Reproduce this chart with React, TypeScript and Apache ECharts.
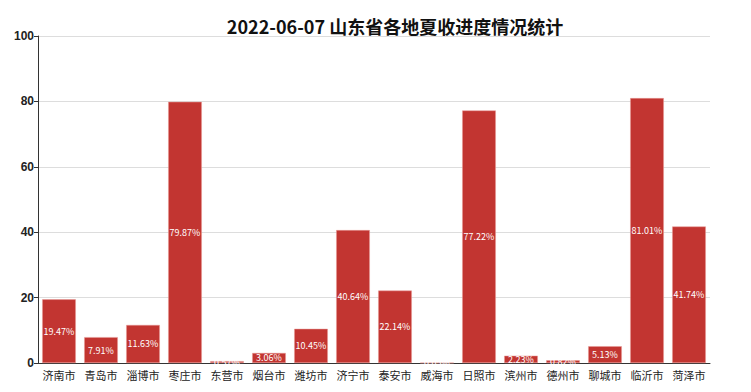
import React, { useEffect, useRef } from "react";
import * as echarts from "echarts";

const categories = ["济南市", "青岛市", "淄博市", "枣庄市", "东营市", "烟台市", "潍坊市", "济宁市", "泰安市", "威海市", "日照市", "滨州市", "德州市", "聊城市", "临沂市", "菏泽市"];
const values = [19.47, 7.91, 11.63, 79.87, 0.57, 3.06, 10.45, 40.64, 22.14, 0.05, 77.22, 2.23, 0.82, 5.13, 81.01, 41.74];
const yTicks = [0, 20, 40, 60, 80, 100];

export default function App() {
  const ref = useRef<HTMLDivElement>(null);
  useEffect(() => {
    const chart = echarts.init(ref.current!, null, { renderer: "svg" });
    chart.setOption({
      animation: false,
      title: {
        text: "2022-06-07 山东省各地夏收进度情况统计",
        left: 382,
        textAlign: "center",
        top: 4,
        textStyle: { fontSize: 18, fontWeight: "bold", color: "#111", fontFamily: "Noto Sans CJK SC" },
      },
      grid: { left: 30, right: 33, top: 28, bottom: 29 },
      xAxis: {
        type: "category",
        data: categories,
        axisLine: { lineStyle: { color: "#333" } },
        axisTick: { lineStyle: { color: "#333" } },
        axisLabel: { color: "#222", fontSize: 11, margin: 6, interval: 0, lineHeight: 12, fontFamily: "Noto Sans CJK SC" },
      },
      yAxis: {
        type: "value",
        min: 0,
        max: yTicks[yTicks.length - 1],
        interval: 20,
        axisLine: { show: true, lineStyle: { color: "#333" } },
        axisTick: { show: true, length: 4, lineStyle: { color: "#333" } },
        axisLabel: { color: "#222", fontSize: 12, fontWeight: "bold", margin: 4, fontFamily: "Liberation Sans" },
        splitLine: { lineStyle: { color: "#ddd" } },
      },
      series: [
        {
          type: "bar",
          data: values,
          barWidth: "80%",
          itemStyle: { color: "#c23531", borderColor: "#e89a97", borderWidth: 0.5 },
          label: {
            show: true,
            position: "inside",
            formatter: (p: any) => p.value.toFixed(2) + "%",
            color: "#fff",
            fontSize: 9,
            lineHeight: 9,
            fontFamily: "Noto Sans CJK SC",
          },
        },
      ],
    });
    return () => chart.dispose();
  }, []);
  return <div ref={ref} style={{ width: 735, height: 384 }} />;
}
